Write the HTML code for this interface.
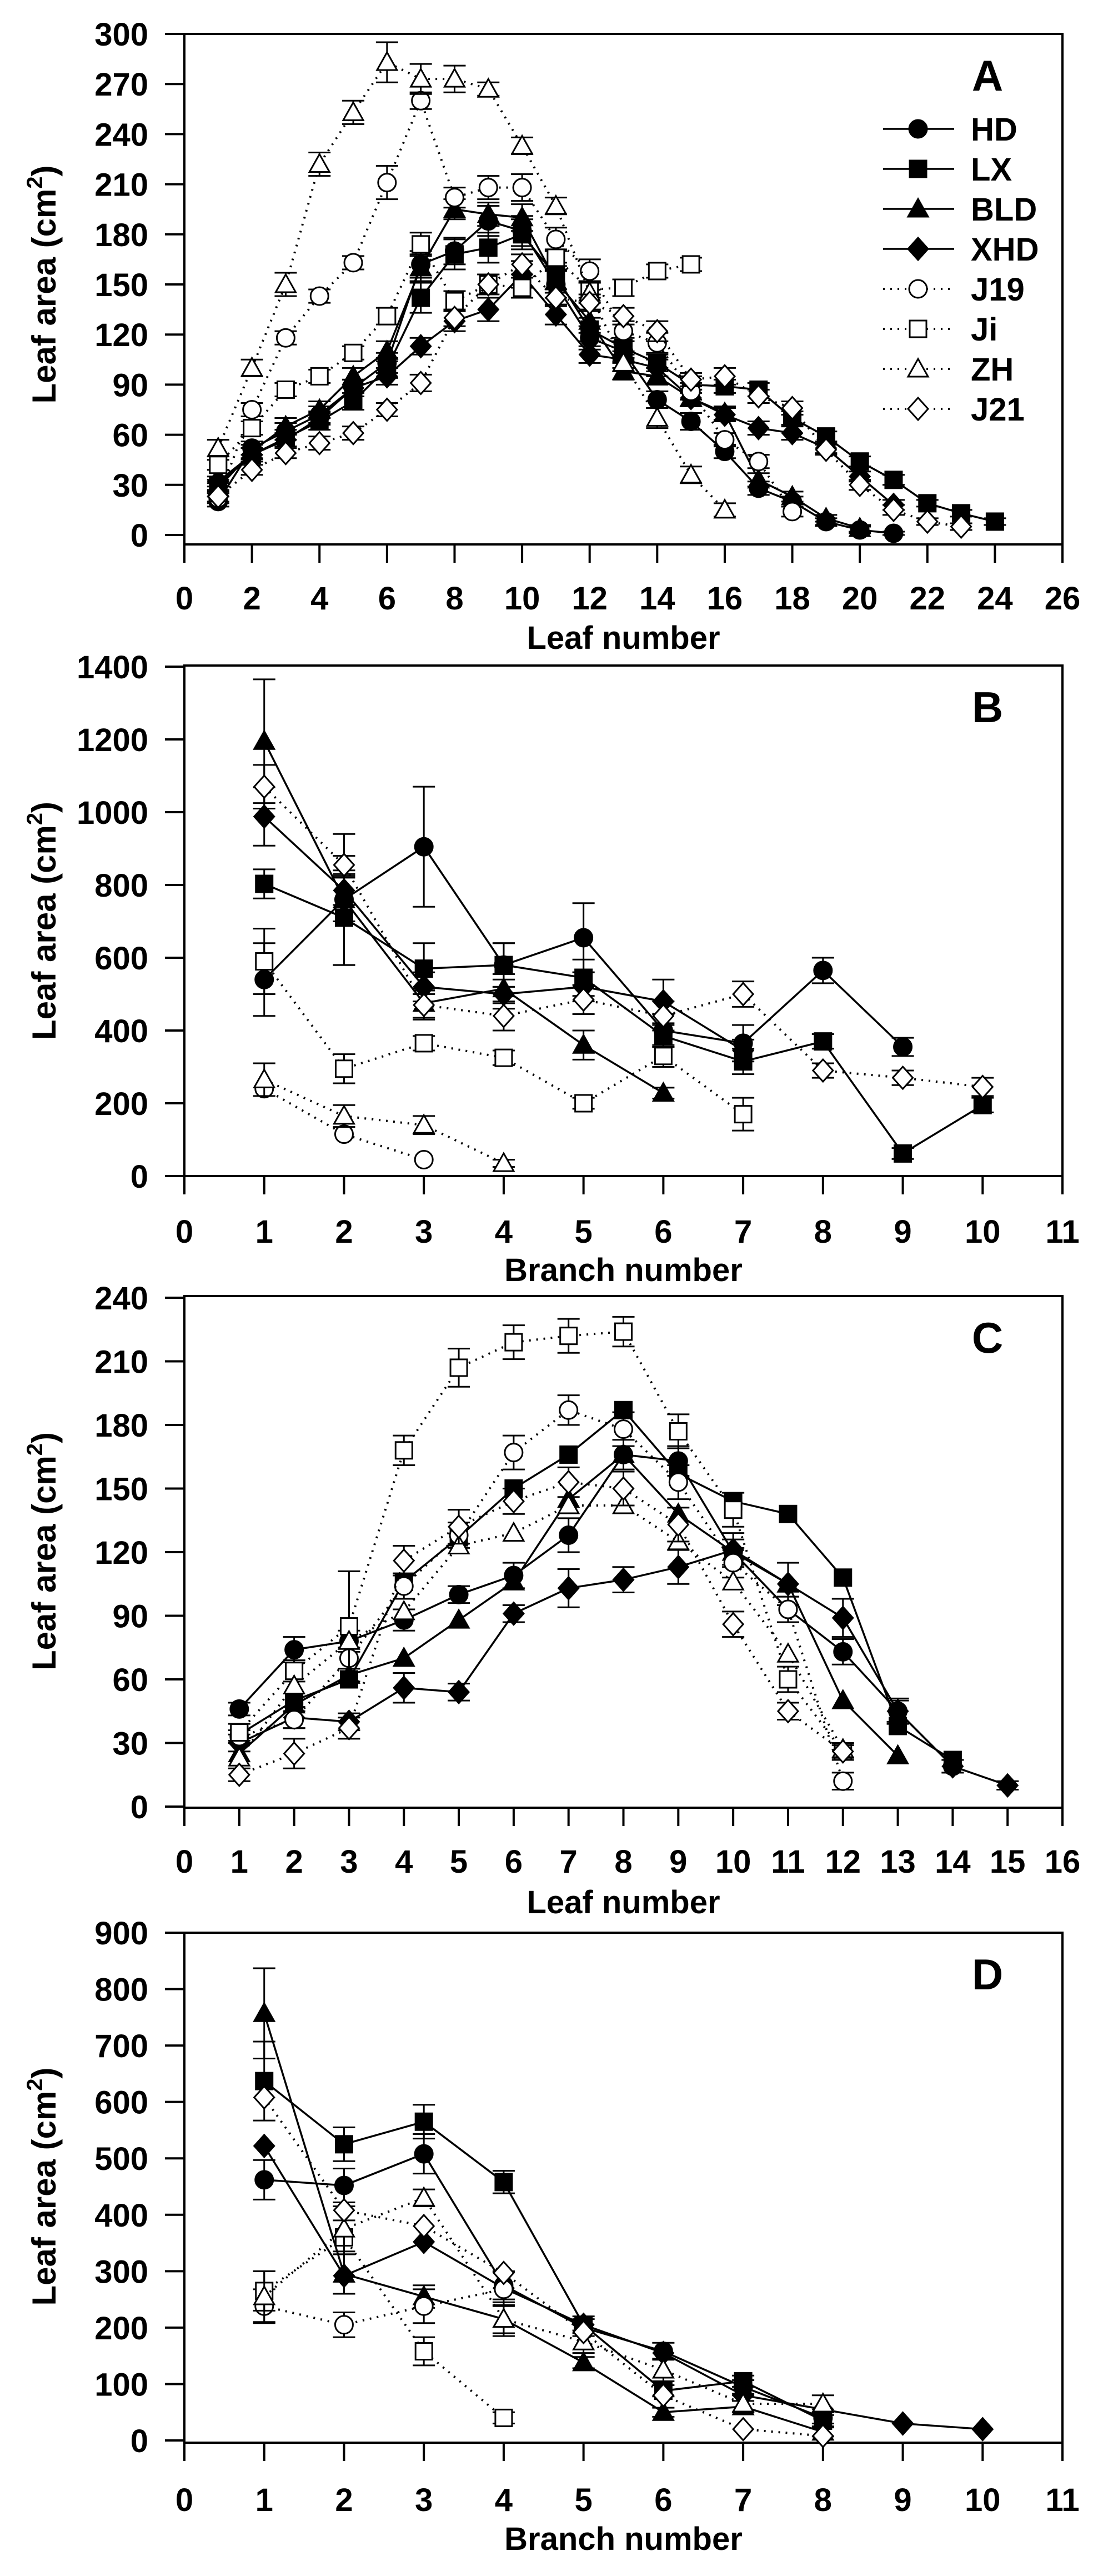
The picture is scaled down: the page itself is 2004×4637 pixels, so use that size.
<!DOCTYPE html>
<html><head><meta charset="utf-8"><style>
html,body{margin:0;padding:0;background:#fff;}
svg{display:block;font-family:"Liberation Sans",Arial,sans-serif;font-weight:bold;}
</style></head><body>
<svg id="fig" width="2004" height="4637" viewBox="0 0 2004 4637" xmlns="http://www.w3.org/2000/svg"></svg>
<script>
// ===== Panel A data (leaf number) =====
const aHD  = [20,52,62,72,88,103,162,170,188,182,150,118,110,81,68,50,28,20,8,3,1];
const aLX  = [30,48,58,68,80,100,142,168,172,180,155,123,112,103,90,89,87,70,59,44,33,19,13,8];
const aBLD = [28,50,65,75,95,110,160,195,192,190,152,128,98,95,82,73,33,23,10,4];
const aXHD = [32,48,57,70,88,95,113,128,135,156,132,108,105,100,82,72,64,61,52,35,18];
const aJ19 = [22,75,118,143,163,211,260,202,208,208,177,158,122,115,86,57,44,14];
const aJi  = [42,64,87,95,109,131,174,140,150,148,166,147,148,158,162];
const aZH  = [52,100,150,222,253,283,273,273,267,233,197,145,103,70,36,15];
const aJ21 = [23,39,49,55,61,75,91,130,150,162,142,139,131,122,93,95,83,76,51,30,15,8,5];
const aErrHD  = [3,4,5,5,5,6,8,8,9,9,8,7,6,5,5,4,4,3,2,2,1];
const aErrLX  = [3,4,5,5,5,6,9,9,9,9,8,7,6,5,5,4,4,4,3,3,3,2,2,2];
const aErrBLD = [3,4,5,5,5,6,8,6,7,8,7,7,5,5,5,4,4,3,2,2];
const aErrXHD = [3,4,4,4,5,5,5,6,7,8,6,5,5,5,5,4,4,4,3,3,3];
const aErrJ19 = [3,4,4,4,4,10,5,6,7,8,7,7,6,6,5,4,4,3];
const aErrJi  = [3,4,4,4,4,5,7,6,6,6,5,5,5,4,4];
const aErrZH  = [5,5,7,7,7,12,9,8,4,5,5,6,5,6,5,4];
const aErrJ21 = [3,3,3,4,4,4,5,5,6,6,5,5,5,6,4,5,4,4,3,3,3,2,2];
const aTicksY = [0,30,60,90,120,150,180,210,240,270,300];
const aTicksX = [0,2,4,6,8,10,12,14,16,18,20,22,24,26];
// ===== Panel B data (branch number) =====
const bHD  = [540,760,905,580,655,400,365,565,355];
const bLX  = [803,710,570,580,545,385,315,370,62,195];
const bBLD = [1195,760,475,515,360,228];
const bXHD = [988,785,520,500,520,480,345];
const bJ19 = [240,115,45];
const bJi  = [590,295,365,325,200,330,170];
const bZH  = [265,165,140,35];
const bJ21 = [1070,855,470,440,485,440,500,290,270,245];
const bErrHD  = [100,180,165,60,95,45,50,35,25];
const bErrBLD = [170,60,40,40,40,15];
const bErrLX  = [40,130,70,60,50,30,35,20,15,20];
const bErrXHD = [80,40,40,40,40,60,30];
const bErrJi  = [90,40,20,20,15,30,45];
const bErrZH  = [45,30,25,10];
const bErrJ21 = [60,25,40,40,40,40,35,20,20,25];
const bTicksY = [0,200,400,600,800,1000,1200,1400];
const bTicksX = [0,1,2,3,4,5,6,7,8,9,10,11];
// ===== Panel C data (leaf number) =====
const cHD  = [46,74,78,88,100,109,128,166,163,120,93,73,45,19];
const cLX  = [34,50,60,106,127,150,166,187,157,144,138,108,38,22];
const cBLD = [25,48,62,70,88,106,145,166,138,120,105,50,24];
const cXHD = [30,42,40,56,54,91,103,107,113,121,105,89,45,19,10];
const cJ19 = [33,41,70,104,128,167,187,178,153,115,93,12];
const cJi  = [35,64,85,168,207,219,222,224,177,140,60,26];
const cZH  = [23,57,78,92,123,129,142,142,125,106,72,27];
const cJ21 = [15,25,37,116,132,144,153,150,133,86,45,26];
const cErrJi  = [4,5,26,7,9,8,8,7,8,8,6,4];
const cErrHD  = [3,6,5,5,4,6,8,7,7,6,6,6,5,3];
const cErrXHD = [4,5,4,7,4,4,9,6,8,8,10,9,6,3,2];
const cErrJ21 = [3,7,5,7,8,6,7,8,8,6,4,3];
const cErrJ19 = [3,4,5,6,6,8,7,8,8,7,6,4];
const cTicksY = [0,30,60,90,120,150,180,210,240];
const cTicksX = [0,1,2,3,4,5,6,7,8,9,10,11,12,13,14,15,16];
// ===== Panel D data (branch number) =====
const dHD  = [462,452,508,275,200,158,95,40];
const dLX  = [637,525,565,458,205,88,105,35];
const dBLD = [757,295,255,215,138,50,60,15];
const dXHD = [522,292,352,270,205,155,80,55,30,20];
const dJ19 = [238,205,238,268];
const dJi  = [265,360,158,40];
const dZH  = [255,375,430,215,175,125,65,65];
const dJ21 = [608,408,380,297,192,80,20,8];
const dErrBLD = [80,35,20,25,10,8,10,8];
const dErrLX  = [70,30,30,20,15,10,10,10];
const dErrHD  = [35,30,35,25,15,15,12,10];
const dErrJ19 = [30,22,30,30];
const dErrJi  = [35,30,25,10];
const dErrZH  = [45,40,15,30,20,20,15,15];
const dTicksY = [0,100,200,300,400,500,600,700,800,900];
const dTicksX = [0,1,2,3,4,5,6,7,8,9,10,11];

const NS = "http://www.w3.org/2000/svg";
const svg = document.getElementById("fig");
function mk(tag, attrs, parent){
  const e = document.createElementNS(NS, tag);
  for (const k in attrs) e.setAttribute(k, attrs[k]);
  (parent || svg).appendChild(e);
  return e;
}

const L = 332, R = 1913;
const panels = [
  {id:"a", letter:"A", top:61, y0:963, yMaxPix:61, ymax:300, bottom:980, labY:1097, titY:1168, xmax:26, xTitle:"Leaf number",
   ticksY:aTicksY, ticksX:aTicksX, legend:true,
   series:[["HD",aHD,aErrHD],["LX",aLX,aErrLX],["BLD",aBLD,aErrBLD],["XHD",aXHD,aErrXHD],["J19",aJ19,aErrJ19],["Ji",aJi,aErrJi],["ZH",aZH,aErrZH],["J21",aJ21,aErrJ21]]},
  {id:"b", letter:"B", top:1198, y0:2117, yMaxPix:1200, ymax:1400, bottom:2117, labY:2237, titY:2306, xmax:11, xTitle:"Branch number",
   ticksY:bTicksY, ticksX:bTicksX,
   series:[["HD",bHD,bErrHD],["LX",bLX,bErrLX],["BLD",bBLD,bErrBLD],["XHD",bXHD,bErrXHD],["J19",bJ19,null],["Ji",bJi,bErrJi],["ZH",bZH,bErrZH],["J21",bJ21,bErrJ21]]},
  {id:"c", letter:"C", top:2333, y0:3252, yMaxPix:2336, ymax:240, bottom:3254, labY:3371, titY:3444, xmax:16, xTitle:"Leaf number",
   ticksY:cTicksY, ticksX:cTicksX,
   series:[["HD",cHD,cErrHD],["LX",cLX,null],["BLD",cBLD,null],["XHD",cXHD,cErrXHD],["J19",cJ19,cErrJ19],["Ji",cJi,cErrJi],["ZH",cZH,null],["J21",cJ21,cErrJ21]]},
  {id:"d", letter:"D", top:3479, y0:4393, yMaxPix:3479, ymax:900, bottom:4397, labY:4520, titY:4590, xmax:11, xTitle:"Branch number",
   ticksY:dTicksY, ticksX:dTicksX,
   series:[["HD",dHD,dErrHD],["LX",dLX,dErrLX],["BLD",dBLD,dErrBLD],["XHD",dXHD,null],["J19",dJ19,dErrJ19],["Ji",dJi,dErrJi],["ZH",dZH,dErrZH],["J21",dJ21,null]]}
];
const styles = {HD:["circle",true],LX:["square",true],BLD:["triangle",true],XHD:["diamond",true],
                J19:["circle",false],Ji:["square",false],ZH:["triangle",false],J21:["diamond",false]};

function marker(g, shape, filled, cx, cy){
  const f = filled ? "#000" : "#fff";
  const a = {fill:f, stroke:"#000", "stroke-width":3};
  let e;
  if (shape === "circle") { e = mk("circle", Object.assign({cx:cx, cy:cy, r:16}, a), g); }
  else if (shape === "square") { e = mk("rect", Object.assign({x:cx-15, y:cy-15, width:30, height:30}, a), g); }
  else if (shape === "triangle") { e = mk("polygon", Object.assign({points:`${cx},${cy-18} ${cx+18},${cy+14} ${cx-18},${cy+14}`}, a), g); }
  else { e = mk("polygon", Object.assign({points:`${cx},${cy-20} ${cx+18},${cy} ${cx},${cy+20} ${cx-18},${cy}`}, a), g); }
  return e;
}

panels.forEach(p => {
  const g = mk("g", {});
  
  
  const xs = v => L + v * (R - L) / p.xmax;
  const ys = v => p.y0 - v * (p.y0 - p.yMaxPix) / p.ymax;
  const frame = mk("path", {d:`M${L},${p.top} H${R} V${p.bottom} H${L} Z`, fill:"none", stroke:"#000", "stroke-width":4}, g);
  
  
  p.ticksY.forEach(t => {
    const y = ys(t);
    const tk = mk("line", {x1:L-35, x2:L, y1:y, y2:y, stroke:"#000", "stroke-width":4}, g);
    
    
    const tx = mk("text", {x:267, y:y+21, "text-anchor":"end", "font-size":58}, g);
    tx.textContent = t;
    
    
  });
  p.ticksX.forEach(t => {
    const x = xs(t);
    const tk = mk("line", {x1:x, x2:x, y1:p.bottom, y2:p.bottom+33, stroke:"#000", "stroke-width":4}, g);
    
    
    const tx = mk("text", {x:x, y:p.labY, "text-anchor":"middle", "font-size":58}, g);
    tx.textContent = t;
    
    
  });
  const xt = mk("text", {x:(L+R)/2, y:p.titY, "text-anchor":"middle", "font-size":58}, g);
  xt.textContent = p.xTitle;
  
  
  const cy = (p.top + p.y0) / 2;
  const yt = mk("text", {x:0, y:0, "text-anchor":"middle", "font-size":60, transform:`translate(100,${cy}) rotate(-90)`}, g);
  yt.innerHTML = 'Leaf area (cm<tspan dy="-24" font-size="40">2</tspan><tspan dy="24">)</tspan>';
  
  
  const lt = mk("text", {x:1778, y:p.top+102, "text-anchor":"middle", "font-size":78}, g);
  lt.textContent = p.letter;
  
  
  p.series.forEach(([name, vals, errs]) => {
    const [shape, filled] = styles[name];
    const sg = mk("g", {}, g);
    
    
    const pts = vals.map((v, i) => [xs(i + 1), ys(v)]);
    const ln = mk("polyline", {points:pts.map(q => q.join(",")).join(" "), fill:"none", stroke:"#000",
      "stroke-width": filled ? 3.5 : 4, "stroke-dasharray": filled ? "none" : "3 10"}, sg);
    
    
    if (errs) {
      vals.forEach((v, i) => {
        if (errs[i] === undefined) return;
        const x = xs(i + 1), y1 = ys(v + errs[i]), y2 = ys(v - errs[i]);
        const eb = mk("path", {d:`M${x},${y1} V${y2} M${x-20},${y1} H${x+20} M${x-20},${y2} H${x+20}`, stroke:"#000", "stroke-width":3, fill:"none"}, sg);
        
        
      });
    }
    pts.forEach(([x, y]) => {
      const m = marker(sg, shape, filled, x, y);
      
      
    });
  });
  if (p.legend) {
    const lg = mk("g", {}, g);
    
    
    p.series.forEach(([name], i) => {
      const [shape, filled] = styles[name];
      const y = 232 + i * 72;
      const eg = mk("g", {}, lg);
      
      
      mk("line", {x1:1590, x2:1718, y1:y, y2:y, stroke:"#000", "stroke-width":filled ? 3.5 : 4, "stroke-dasharray": filled ? "none" : "3 10"}, eg);
      marker(eg, shape, filled, 1653, y);
      const t = mk("text", {x:1748, y:y+21, "font-size":58}, eg);
      t.textContent = name;
    });
  }
});
</script>
</body></html>
